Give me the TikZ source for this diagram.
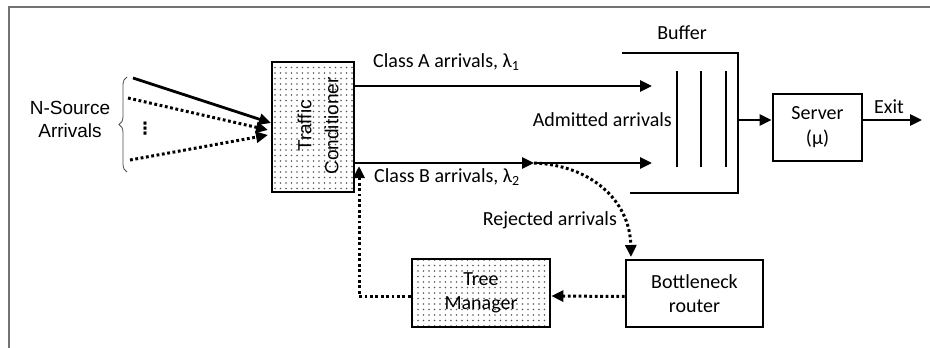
\documentclass[tikz,border=0pt]{standalone}
\usepackage{fontspec}
\setmainfont{Carlito}
\newfontfamily\arialfont{Liberation Sans}
\newfontfamily\symfont{DejaVu Sans}
\usepackage{tikz}
\usetikzlibrary{patterns}
\usetikzlibrary{arrows.meta}
\usetikzlibrary{decorations.pathreplacing}

\pgfdeclarepatternformonly{sparse dots}{\pgfqpoint{-1pt}{-1pt}}{\pgfqpoint{1pt}{1pt}}{\pgfqpoint{5.5pt}{5.5pt}}{%
    \pgfpathcircle{\pgfqpoint{0pt}{0pt}}{0.8pt}\pgfusepath{fill}}

\begin{document}
\begin{tikzpicture}[
        x=1pt, y=-1pt,
        every node/.style = {
        font=\fontsize{20}{24}\selectfont, inner sep=0pt
        },
        box/.style = {draw, line width=2.8pt, align=center},
        dotbox/.style = {box, pattern=sparse dots, pattern color=black!65},
        flow/.style = {line width=2.8pt, -{Triangle[length=12pt,width=11pt]}},
        dotflow/.style = {flow, line width=3pt, dash pattern=on 2.8pt off 2.6pt},
        wall/.style = {line width=2.8pt}
        ]
        \useasboundingbox (0,0) rectangle (930,348);
        \draw[black!55, line width=2.4pt] (9,348) -- (9,7) -- (930,7);

        \node[dotbox, minimum width=82, minimum height=130] (tc) at (313,127) {};
        \node[rotate=90, align=center, font=\arialfont\fontsize{19}{27}\selectfont] (tclabel) at (318,126) {Traffic\\Conditioner};
        \node[box, minimum width=89, minimum height=67, font=\fontsize{20}{25}\selectfont] (server) at (817.5,127.5) {Server\\(μ)};
        \node[box, minimum width=137, minimum height=67] (router) at (694.5,293.5) {Bottleneck\\router};
        \node[dotbox, minimum width=138, minimum height=68] (tree) at (481,293) {Tree\\Manager};

        \node[align=center, font=\arialfont\fontsize{19}{23}\selectfont] (nsrc) at (70,119) {N-Source\\Arrivals};
        \node[font=\symfont\bfseries\fontsize{17}{17}\selectfont] (vd) at (145,129) {⋮};
        \node[anchor=west] (clsA) at (373,62) {Class A arrivals, λ\textsubscript{1}};
        \node[anchor=west] (clsB) at (374,177) {Class B arrivals, λ\textsubscript{2}};
        \node[anchor=east] (admit) at (672,120) {Admitted arrivals};
        \node[anchor=east] (reject) at (617,220) {Rejected arrivals};
        \node (buflabel) at (682,33) {Buffer};
        \node (exitlabel) at (889,107) {Exit};

        \draw[line width=0.8pt, black!70, decorate, decoration={brace, amplitude=8pt}] (127,172) -- (127,77);
        \coordinate (s1) at (133,78);
        \coordinate (s2) at (128,98);
        \coordinate (s3) at (130,160);
        \coordinate (t1) at (271,123);
        \coordinate (t2) at (268,130);
        \coordinate (t3) at (268,135);
        \draw[flow] (s1) -- (t1);
        \draw[dotflow] (s2) -- (t2);
        \draw[dotflow] (s3) -- (t3);

        \coordinate (aend) at (652,86);
        \coordinate (bend) at (652,163);
        \coordinate (bsplit) at (534,163);
        \draw[flow] (tc.east |- aend) -- (aend);
        \draw[flow] (tc.east |- bend) -- (bsplit);
        \draw[flow] (bsplit) -- (bend);

        \draw[wall] (622,53) -- (738,53) -- (738,193) -- (630,193);
        \foreach \x in {677,701,726}
            \draw[wall] (\x,71) -- (\x,167);
        \coordinate (bufout) at (738,120);
        \coordinate (exitpt) at (922,120);
        \draw[flow] (bufout) -- (server.west |- bufout);
        \draw[flow] (server.east |- bufout) -- (exitpt);

        \coordinate (rin) at (631,257);
        \coordinate (fb) at (359,166);
        \draw[dotflow] (bsplit) .. controls (590,165) and (630,200) .. (rin);
        \draw[dotflow] ([yshift=-3pt]router.west) -- ([yshift=-3pt]tree.east);
        \draw[dotflow] ([yshift=-3pt]tree.west) -| (fb);
    \end{tikzpicture}
\end{document}
